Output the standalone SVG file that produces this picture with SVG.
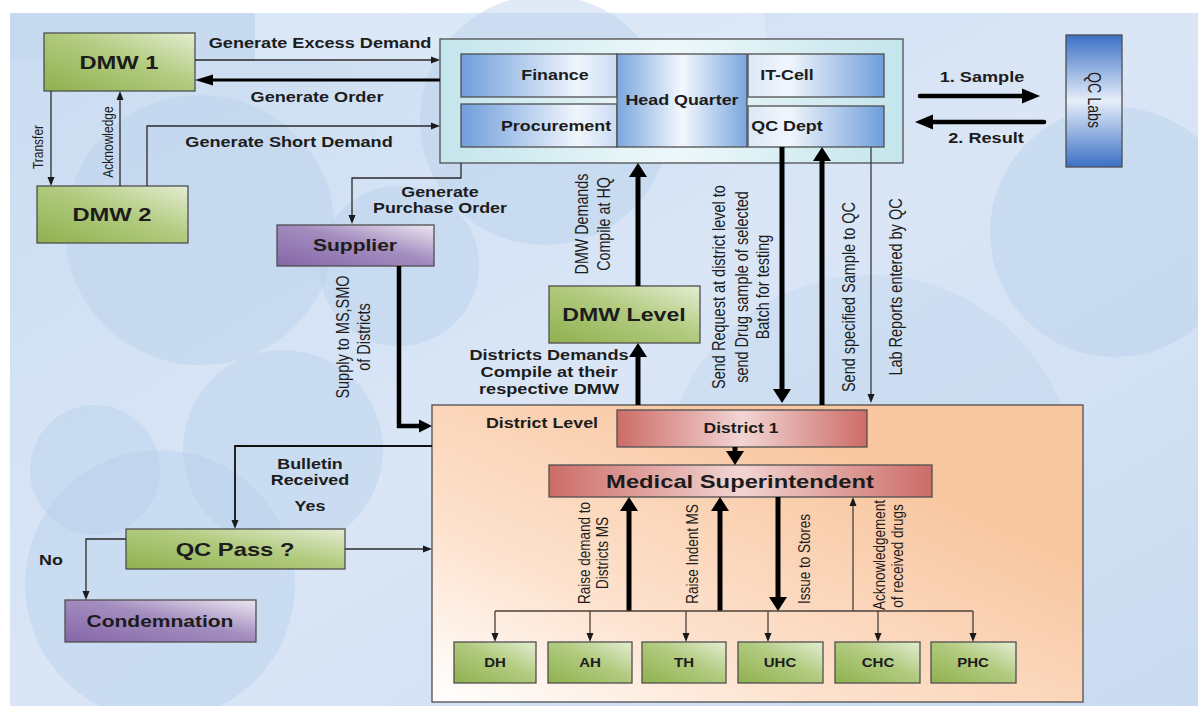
<svg xmlns="http://www.w3.org/2000/svg" width="1198" height="706" viewBox="0 0 1198 706">
<defs>
<style>
.b{font-family:"Liberation Sans",Arial,sans-serif;font-weight:bold;fill:#1c1c1c;text-anchor:middle}
.r{font-family:"Liberation Sans",Arial,sans-serif;fill:#1c1c1c;text-anchor:middle}
.box{stroke:#4f4f4f;stroke-width:1.3}
.thin{fill:none;stroke:#2a2a2a;stroke-width:1.3}
.thk{fill:none;stroke:#000;stroke-width:5}
.br{fill:none;stroke:#4a3f38;stroke-width:1.3}
.circ{fill:#b9d0ec;opacity:0.45}
</style>
<linearGradient id="gGreen" x1="0" y1="1" x2="1" y2="0"><stop offset="0" stop-color="#8fb14e"/><stop offset="0.55" stop-color="#b2cb80"/><stop offset="1" stop-color="#e4edd2"/></linearGradient>
<linearGradient id="gPurple" x1="0" y1="1" x2="1" y2="0"><stop offset="0" stop-color="#8566a8"/><stop offset="0.55" stop-color="#a48dbf"/><stop offset="1" stop-color="#ece7f1"/></linearGradient>
<linearGradient id="gHQ" x1="0" y1="0" x2="1" y2="0"><stop offset="0" stop-color="#c3e5ec"/><stop offset="0.5" stop-color="#eef8fa"/><stop offset="1" stop-color="#c3e5ec"/></linearGradient>
<linearGradient id="gBlueL" x1="0" y1="0" x2="1" y2="0"><stop offset="0" stop-color="#6f9edb"/><stop offset="0.75" stop-color="#f1f6fc"/><stop offset="1" stop-color="#c9dcf3"/></linearGradient>
<linearGradient id="gBlueR" x1="0" y1="0" x2="1" y2="0"><stop offset="0" stop-color="#dbe7f7"/><stop offset="0.3" stop-color="#f1f6fc"/><stop offset="1" stop-color="#6f9edb"/></linearGradient>
<linearGradient id="gBlueC" x1="0" y1="0" x2="1" y2="0"><stop offset="0" stop-color="#7aa6de"/><stop offset="0.5" stop-color="#f4f8fd"/><stop offset="1" stop-color="#7aa6de"/></linearGradient>
<linearGradient id="gLabs" x1="0" y1="0" x2="0" y2="1"><stop offset="0" stop-color="#3b70c5"/><stop offset="0.5" stop-color="#e6eef9"/><stop offset="1" stop-color="#3b70c5"/></linearGradient>
<linearGradient id="gDist" x1="0" y1="1" x2="0.75" y2="0.25"><stop offset="0" stop-color="#ffffff"/><stop offset="0.4" stop-color="#fde2ce"/><stop offset="1" stop-color="#f8c69f"/></linearGradient>
<linearGradient id="gRed" x1="0" y1="0" x2="1" y2="0"><stop offset="0" stop-color="#cd6c67"/><stop offset="0.5" stop-color="#f1d5d3"/><stop offset="1" stop-color="#cd6c67"/></linearGradient>
<linearGradient id="gBg" x1="0" y1="0" x2="1" y2="1"><stop offset="0" stop-color="#cadcf1"/><stop offset="0.5" stop-color="#dae6f6"/><stop offset="1" stop-color="#c9dbf0"/></linearGradient>
<marker id="mThin" markerUnits="userSpaceOnUse" viewBox="0 0 9 7" refX="0" refY="3.5" markerWidth="9" markerHeight="7" orient="auto" overflow="visible"><path d="M0,0 L9,3.5 L0,7 z" fill="#1a1a1a"/></marker>
<marker id="mThick" markerUnits="userSpaceOnUse" viewBox="0 0 14 18" refX="0" refY="9" markerWidth="14" markerHeight="18" orient="auto" overflow="visible"><path d="M0,0 L14,9 L0,18 z" fill="#000"/></marker>
<marker id="mMed" markerUnits="userSpaceOnUse" viewBox="0 0 18 11" refX="0" refY="5.5" markerWidth="18" markerHeight="11" orient="auto" overflow="visible"><path d="M0,0 L18,5.5 L0,11 z" fill="#000"/></marker>
<marker id="mBig" markerUnits="userSpaceOnUse" viewBox="0 0 18 15" refX="0" refY="7.5" markerWidth="18" markerHeight="15" orient="auto" overflow="visible"><path d="M0,0 L18,7.5 L0,15 z" fill="#000"/></marker>
<marker id="mSup" markerUnits="userSpaceOnUse" viewBox="0 0 13 13" refX="0" refY="6.5" markerWidth="13" markerHeight="13" orient="auto" overflow="visible"><path d="M0,0 L13,6.5 L0,13 z" fill="#000"/></marker>
</defs>

<g id="background">
<rect x="0" y="0" width="1198" height="706" fill="#ffffff"/>
<rect x="10" y="13" width="1188" height="693" fill="url(#gBg)"/>
<rect x="10" y="13" width="245" height="48" fill="#c3d7ef" opacity="0.6"/>
<rect x="255" y="13" width="510" height="48" fill="#e3edf9" opacity="0.6"/>
<circle class="circ" cx="545" cy="120" r="125"/>
<circle class="circ" cx="1115" cy="232" r="125"/>
<circle class="circ" cx="200" cy="230" r="135"/>
<circle class="circ" cx="399" cy="266" r="80"/>
<circle class="circ" cx="283" cy="450" r="100"/>
<circle class="circ" cx="160" cy="585" r="135"/>
<circle class="circ" cx="95" cy="470" r="65"/>
<circle cx="870" cy="480" r="205" fill="#b9d0ec" opacity="0.3"/>
</g>

<g id="dmw1"><rect class="box" x="44" y="33" width="151" height="58" fill="url(#gGreen)"/><text class="b" font-size="19" transform="translate(119,68.5) scale(1.25,1)">DMW 1</text></g>
<g id="dmw2"><rect class="box" x="37" y="186" width="151" height="57" fill="url(#gGreen)"/><text class="b" font-size="19" transform="translate(112,220.5) scale(1.25,1)">DMW 2</text></g>

<g id="hq">
<rect class="box" x="440" y="39" width="463" height="124" fill="url(#gHQ)"/>
<g id="finance"><rect class="box" x="461" y="54" width="156" height="43" fill="url(#gBlueL)"/><text class="b" font-size="14.3" transform="translate(555,79.5) scale(1.25,1)">Finance</text></g>
<g id="procurement"><rect class="box" x="461" y="104" width="156" height="43" fill="url(#gBlueL)"/><text class="b" font-size="14.3" transform="translate(556,130.5) scale(1.25,1)">Procurement</text></g>
<g id="head-quarter"><rect class="box" x="617" y="54" width="130" height="93" fill="url(#gBlueC)"/><text class="b" font-size="14.3" transform="translate(682,105) scale(1.25,1)">Head Quarter</text></g>
<g id="it-cell"><rect class="box" x="748" y="54" width="136" height="43" fill="url(#gBlueR)"/><text class="b" font-size="14.3" transform="translate(787,79.5) scale(1.25,1)">IT-Cell</text></g>
<g id="qc-dept"><rect class="box" x="748" y="106" width="136" height="41" fill="url(#gBlueR)"/><text class="b" font-size="14.3" transform="translate(787,131) scale(1.25,1)">QC Dept</text></g>
</g>

<g id="qc-labs"><rect class="box" x="1066" y="35" width="56" height="132" fill="url(#gLabs)"/><text class="r" font-size="14.2" transform="translate(1088,100) scale(1.25,1) rotate(90)">QC Labs</text></g>

<g id="supplier"><rect class="box" x="277" y="225" width="157" height="41" fill="url(#gPurple)"/><text class="b" font-size="16.8" transform="translate(355,250.5) scale(1.25,1)">Supplier</text></g>

<g id="dmw-level"><rect class="box" x="549" y="286" width="151" height="57" fill="url(#gGreen)"/><text class="b" font-size="18.5" transform="translate(624,320.5) scale(1.25,1)">DMW Level</text></g>

<g id="district-level">
<rect class="box" x="432" y="405" width="651" height="297" fill="url(#gDist)"/>
<text class="b" font-size="14.3" transform="translate(542,428) scale(1.25,1)">District Level</text>
</g>
<g id="district-1"><rect class="box" x="617" y="410" width="250" height="37" fill="url(#gRed)"/><text class="b" font-size="14" transform="translate(741,433) scale(1.25,1)">District 1</text></g>
<g id="medical-superintendent"><rect class="box" x="549" y="465" width="383" height="32" fill="url(#gRed)"/><text class="b" font-size="19" transform="translate(740,488) scale(1.25,1)">Medical Superintendent</text></g>

<g id="dh"><rect class="box" x="454" y="642" width="82" height="41" fill="url(#gGreen)"/><text class="b" font-size="12" transform="translate(495,667) scale(1.25,1)">DH</text></g>
<g id="ah"><rect class="box" x="548" y="642" width="84" height="41" fill="url(#gGreen)"/><text class="b" font-size="12" transform="translate(590,667) scale(1.25,1)">AH</text></g>
<g id="th"><rect class="box" x="642" y="642" width="84" height="41" fill="url(#gGreen)"/><text class="b" font-size="12" transform="translate(684,667) scale(1.25,1)">TH</text></g>
<g id="uhc"><rect class="box" x="738" y="642" width="85" height="41" fill="url(#gGreen)"/><text class="b" font-size="12" transform="translate(780,667) scale(1.25,1)">UHC</text></g>
<g id="chc"><rect class="box" x="835" y="642" width="85" height="41" fill="url(#gGreen)"/><text class="b" font-size="12" transform="translate(878,667) scale(1.25,1)">CHC</text></g>
<g id="phc"><rect class="box" x="931" y="642" width="85" height="41" fill="url(#gGreen)"/><text class="b" font-size="12" transform="translate(973,667) scale(1.25,1)">PHC</text></g>

<g id="qc-pass"><rect class="box" x="126" y="529" width="219" height="40" fill="url(#gGreen)"/><text class="b" font-size="19" transform="translate(235,555.5) scale(1.25,1)">QC Pass ?</text></g>
<g id="condemnation"><rect class="box" x="65" y="600" width="191" height="42" fill="url(#gPurple)"/><text class="b" font-size="16.8" transform="translate(160,627) scale(1.25,1)">Condemnation</text></g>

<g id="connectors">
<path class="thin" d="M195,60 H431" marker-end="url(#mThin)"/>
<path d="M440,80 H213" fill="none" stroke="#000" stroke-width="3" marker-end="url(#mMed)"/>
<path class="thin" d="M147,186 V126 H431" marker-end="url(#mThin)"/>
<path class="thin" d="M51,91 V177" marker-end="url(#mThin)"/>
<path class="thin" d="M120,186 V100" marker-end="url(#mThin)"/>
<path class="thin" d="M461,163 V178 H352 V215" marker-end="url(#mThin)"/>
<path d="M920,96 H1022" fill="none" stroke="#000" stroke-width="4.5" stroke-linecap="round" marker-end="url(#mBig)"/>
<path d="M1044,122 H933" fill="none" stroke="#000" stroke-width="4.5" stroke-linecap="round" marker-end="url(#mBig)"/>
<path class="thk" d="M638,286 V177" marker-end="url(#mThick)"/>
<path class="thk" d="M638,405 V357" marker-end="url(#mThick)"/>
<path class="thk" d="M782,147 V389" marker-end="url(#mThick)"/>
<path class="thk" d="M822,405 V161" marker-end="url(#mThick)"/>
<path d="M871,147 V394" fill="none" stroke="#3a3a3a" stroke-width="1.3" marker-end="url(#mThin)"/>
<path d="M399,266 V426 H419" fill="none" stroke="#000" stroke-width="4.5" marker-end="url(#mSup)"/>
<path class="thk" d="M735,447 V451" marker-end="url(#mThick)"/>
<path class="thk" d="M629,611 V511" marker-end="url(#mThick)"/>
<path class="thk" d="M720,611 V511" marker-end="url(#mThick)"/>
<path class="thk" d="M778,497 V597" marker-end="url(#mThick)"/>
<path class="br" d="M853,611 V506" marker-end="url(#mThin)"/>
<path class="br" d="M495,611 H973"/>
<path class="br" d="M495,611 V633" marker-end="url(#mThin)"/>
<path class="br" d="M590,611 V633" marker-end="url(#mThin)"/>
<path class="br" d="M686,611 V633" marker-end="url(#mThin)"/>
<path class="br" d="M768,611 V633" marker-end="url(#mThin)"/>
<path class="br" d="M878,611 V633" marker-end="url(#mThin)"/>
<path class="br" d="M973,611 V633" marker-end="url(#mThin)"/>
<path d="M432,446 H235 V520" fill="none" stroke="#111" stroke-width="1.8" marker-end="url(#mThin)"/>
<path class="thin" d="M345,549 H423" marker-end="url(#mThin)"/>
<path class="thin" d="M126,539 H86 V591" marker-end="url(#mThin)"/>

<text class="b" font-size="14.5" transform="translate(320,48) scale(1.25,1)">Generate Excess Demand</text>
<text class="b" font-size="14.5" transform="translate(317,102) scale(1.25,1)">Generate Order</text>
<text class="b" font-size="14.5" transform="translate(289,147) scale(1.25,1)">Generate Short Demand</text>
<text class="r" font-size="12" transform="translate(43,147) scale(1.25,1) rotate(-90)">Transfer</text>
<text class="r" font-size="12" transform="translate(113,142) scale(1.25,1) rotate(-90)">Acknowledge</text>
<text class="b" font-size="14.3" transform="translate(440,197) scale(1.25,1)">Generate</text>
<text class="b" font-size="14.3" transform="translate(440,213) scale(1.25,1)">Purchase Order</text>
<text class="b" font-size="14.5" transform="translate(982,82) scale(1.25,1)">1. Sample</text>
<text class="b" font-size="14.5" transform="translate(986,143) scale(1.25,1)">2. Result</text>
<text class="r" font-size="14.3" transform="translate(588,224) scale(1.25,1) rotate(-90)">DMW Demands</text>
<text class="r" font-size="14.3" transform="translate(610,224) scale(1.25,1) rotate(-90)">Compile at HQ</text>
<text class="r" font-size="14.5" transform="translate(725,287) scale(1.25,1) rotate(-90)">Send Request at district level to</text>
<text class="r" font-size="14.5" transform="translate(748,287) scale(1.25,1) rotate(-90)">send Drug sample of selected</text>
<text class="r" font-size="14.5" transform="translate(769,287) scale(1.25,1) rotate(-90)">Batch for testing</text>
<text class="r" font-size="14.5" transform="translate(855,297) scale(1.25,1) rotate(-90)">Send specified Sample to QC</text>
<text class="r" font-size="14.5" transform="translate(902,287) scale(1.25,1) rotate(-90)">Lab Reports entered by QC</text>
<text class="r" font-size="14.5" transform="translate(349,337) scale(1.25,1) rotate(-90)">Supply to MS,SMO</text>
<text class="r" font-size="14.5" transform="translate(370,337) scale(1.25,1) rotate(-90)">of Districts</text>
<text class="b" font-size="14.5" transform="translate(549,360) scale(1.25,1)">Districts Demands</text>
<text class="b" font-size="14.5" transform="translate(549,377) scale(1.25,1)">Compile at their</text>
<text class="b" font-size="14.5" transform="translate(549,394) scale(1.25,1)">respective DMW</text>
<text class="r" font-size="13.5" transform="translate(590,553) scale(1.25,1) rotate(-90)">Raise demand to</text>
<text class="r" font-size="13.5" transform="translate(608,553) scale(1.25,1) rotate(-90)">Districts MS</text>
<text class="r" font-size="13.5" transform="translate(698,554) scale(1.25,1) rotate(-90)">Raise Indent MS</text>
<text class="r" font-size="13.5" transform="translate(810,559) scale(1.25,1) rotate(-90)">Issue to Stores</text>
<text class="r" font-size="13.5" transform="translate(885,555) scale(1.25,1) rotate(-90)">Acknowledgement</text>
<text class="r" font-size="13.5" transform="translate(903,556) scale(1.25,1) rotate(-90)">of received drugs</text>
<text class="b" font-size="14.3" transform="translate(310,469) scale(1.25,1)">Bulletin</text>
<text class="b" font-size="14.3" transform="translate(310,485) scale(1.25,1)">Received</text>
<text class="b" font-size="14.3" transform="translate(310,511) scale(1.25,1)">Yes</text>
<text class="b" font-size="14.3" transform="translate(51,565) scale(1.25,1)">No</text>
</g>
</svg>
